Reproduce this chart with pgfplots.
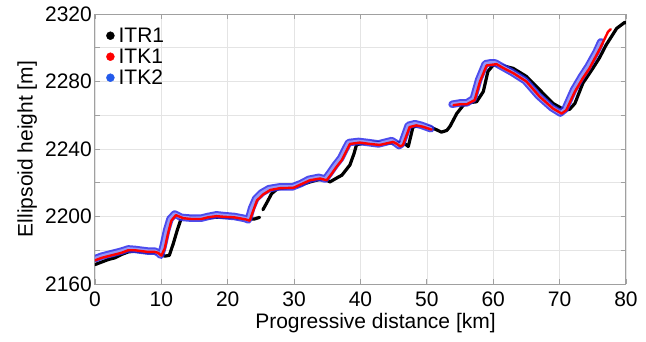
\documentclass[border=0pt]{standalone}
\usepackage{fontspec}
\setmainfont{Liberation Sans}
\usepackage{pgfplots}
\pgfplotsset{compat=1.18}
\definecolor{itkblue}{RGB}{45,45,235}
\definecolor{itkinner}{RGB}{150,150,245}
\definecolor{legblue}{RGB}{35,90,235}
\definecolor{gridgray}{RGB}{228,228,228}
\definecolor{axgray}{RGB}{160,160,160}
\pgfplotstableread{
x y
0 2175
1 2176.5
2 2177.5
3 2178.5
4 2179.5
5 2180.8
6 2180.5
7 2180
8 2179.5
9 2179.5
9.5 2178.5
9.9 2177
10.3 2183
10.8 2192
11.3 2198.5
12 2201.5
13 2199.5
14.5 2199
16 2199
17 2200
18.3 2201
19.5 2200.5
21 2200
22.6 2198.8
23.1 2198
23.6 2205
24.2 2210.5
25.1 2214
26.2 2216.5
27.7 2217.5
29.7 2217.5
31 2219.5
32.2 2222
33.7 2223.2
34.7 2222.2
35.4 2226
36.2 2230.5
37 2234.5
38.2 2243.8
39.7 2244.5
41.2 2243.8
42.7 2243
44.7 2245
45.3 2243.5
45.8 2242
46.2 2243
47.2 2254
48.2 2255
49.2 2254
50.6 2252
}\blueA
\pgfplotstableread{
x y
53.8 2266.5
55 2267.3
56 2267.3
57 2269.8
57.8 2281
58.8 2290.5
59.5 2291
60.3 2291
61.3 2288.8
62.8 2285.5
64.8 2280.5
66.8 2271.5
68.8 2264.5
70.1 2261.3
70.8 2263.5
72.1 2275
73.3 2283
74.3 2289
75.5 2297.5
76.2 2303.5
}\blueB
\begin{document}
\fontsize{21}{25}\selectfont
\begin{tikzpicture}
\path[use as bounding box] (-95pt,-57pt) rectangle (551pt,284pt);
\begin{axis}[
  scale only axis, width=531pt, height=270pt,
  xmin=0, xmax=80, ymin=2160, ymax=2320,
  xtick={0,10,...,80}, ytick={2160,2180,...,2320},
  yticklabels={2160,,2200,,2240,,2280,,2320},
  /pgf/number format/assume math mode=true,
  /pgf/number format/1000 sep={},
  grid=major, major grid style={gridgray, line width=0.7pt},
  axis line style={axgray, line width=1pt},
  tick style={axgray, line width=0.8pt}, tick align=inside, major tick length=5pt,
  every tick label/.append style={font=\fontsize{21}{25}\selectfont, text=black},
  xticklabel style={inner sep=0pt, anchor=north, yshift=-8pt},
  yticklabel style={inner sep=0pt, anchor=east, xshift=-3pt},
  xlabel={Progressive distance [km]},
  ylabel={Ellipsoid height [m]},
  label style={font=\fontsize{21}{25}\selectfont},
  xlabel style={at={(axis description cs:0.5,0)}, anchor=north, inner sep=0pt, yshift=-29pt, xshift=15pt},
  ylabel style={at={(axis description cs:-0.109,0.5)}, anchor=south, inner sep=0pt},
  legend cell align=left,
  legend image code/.code={\fill[#1] (0pt,0pt) circle[radius=4pt];},
  legend style={at={(0,1)}, anchor=north west, xshift=11pt, yshift=-11pt,
    draw=none, fill=none, inner sep=0pt, row sep=0pt, column sep=2pt,
    font=\fontsize{21}{25}\selectfont,
    nodes={inner sep=2pt, text height=15pt, text depth=2pt}},
]
\addlegendimage{black}\addlegendentry{ITR1}
\addlegendimage{red}\addlegendentry{ITK1}
\addlegendimage{legblue}\addlegendentry{ITK2}

% ITR1
\addplot[forget plot, black, line width=3.2pt, line join=round, line cap=round] coordinates {
(0,2171.5) (1,2173) (2,2174.5) (3,2175.5) (4,2177.5) (5,2179) (6,2179.5) (7,2179) (8,2178.5) (9,2178.5) (10,2178) (10.5,2176.5) (11.2,2177) (11.8,2184) (12.4,2192) (13,2199) (14,2199.5) (16,2199) (18,2199.5) (20,2199.5) (22,2199) (23,2198.5) (24,2198.5) (24.8,2199.5)
};
\addplot[forget plot, black, line width=3.2pt, line join=round, line cap=round] coordinates {
(25.3,2204) (26,2209) (26.6,2213.5) (27.5,2216.5) (29,2217) (30.5,2218) (32.4,2220.5) (34.4,2222.5) (35.4,2220.5) (36.5,2223) (37.2,2224.5) (38.4,2230.5) (39,2237) (39.4,2242.5) (40.5,2243.5) (41.9,2244) (43.5,2243.5) (44.9,2243.5) (46.4,2244) (47.2,2241.5) (47.9,2253) (48.9,2254) (50.5,2253) (51.4,2251.5) (52.2,2250) (53,2251) (53.5,2253.5) (54.5,2261) (55.5,2266) (56.5,2267.5) (57.5,2268) (58.5,2274) (59.2,2286) (60,2289.8) (61,2289.8) (63,2287.8) (65,2283) (67,2275) (69,2267) (70.8,2263) (71.5,2263.5) (72.3,2267) (73.5,2279) (75,2287.8) (76,2294) (77,2301.6) (78.6,2311.5) (79.8,2315) (80.3,2314.5)
};

% ITK2: blue rings
\addplot[forget plot, itkblue, opacity=0.85, line width=7.5pt, line join=round, line cap=round] table[x=x,y=y] {\blueA};
\addplot[forget plot, itkblue, opacity=0.85, line width=7.5pt, line join=round, line cap=round] table[x=x,y=y] {\blueB};
\addplot[forget plot, itkinner, line width=3.5pt, line join=round, line cap=round] table[x=x,y=y] {\blueA};
\addplot[forget plot, itkinner, line width=3.5pt, line join=round, line cap=round] table[x=x,y=y] {\blueB};

% ITK1
\addplot[forget plot, red, line width=2.4pt, line join=round, line cap=round] coordinates {
(0,2174) (1,2175.5) (2,2176.5) (3,2177.5) (4,2178.5) (5,2180) (6,2180) (7,2179.5) (8,2179) (9,2179) (9.5,2178.5) (10,2176.8) (10.5,2181) (11,2190) (11.5,2197.5) (12.2,2200.8) (13.3,2199) (14.5,2198.5) (16,2198.5) (17,2199.5) (18.3,2200.2) (19.5,2199.8) (21,2199.5) (22.8,2198.2) (23.3,2197.5) (23.8,2203) (24.4,2209.5) (25.3,2213) (26.4,2215.7) (27.9,2216.8) (29.9,2217) (31,2219) (32.4,2221.5) (33.9,2222.5) (34.9,2221.5) (35.6,2225) (36.4,2229.5) (37.2,2233.5) (38.4,2243) (39.9,2243.8) (41.4,2243) (42.9,2242.4) (44.9,2244.2) (45.5,2243) (46,2241.5) (46.4,2242.4) (47.4,2253) (48.4,2254) (49.4,2253.2) (50.7,2251.5)
};
\addplot[forget plot, red, line width=2.4pt, line join=round, line cap=round] coordinates {
(54,2266) (55,2266.5) (56,2266.5) (57.2,2269) (58,2280) (59,2289.5) (60.5,2290.3) (61.5,2288) (63,2285) (65,2280) (67,2271) (69,2264) (70.3,2261) (71,2263) (72.3,2274) (73.5,2282) (74.5,2287.8) (76.1,2299.7) (77.3,2309.5) (77.7,2311)
};
\end{axis}
\end{tikzpicture}
\end{document}
